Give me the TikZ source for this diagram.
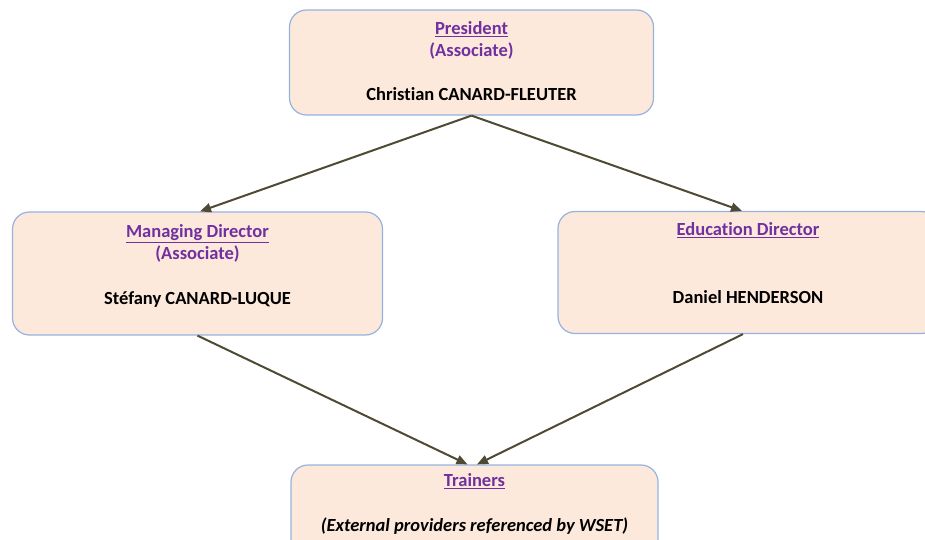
\documentclass[tikz,border=0pt]{standalone}
\usepackage{fontspec}
\setmainfont{Carlito}[Ligatures=NoCommon]
\usetikzlibrary{arrows.meta}
\definecolor{boxfill}{RGB}{252,233,219}
\definecolor{boxline}{RGB}{150,178,222}
\definecolor{ttlpurple}{RGB}{112,48,160}
\definecolor{arrowc}{RGB}{78,74,52}
\tikzset{
  orgbox/.style={draw=boxline, line width=1.2pt, fill=boxfill, rounded corners=17pt, inner sep=0pt},
  ttl/.style={anchor=base, inner sep=0pt, text=ttlpurple, font=\fontsize{18.5}{22}\selectfont\bfseries},
  nm/.style={anchor=base, inner sep=0pt, text=black, font=\fontsize{18.5}{22}\selectfont\bfseries},
  conn/.style={draw=arrowc, line width=2pt, -{Triangle[length=11pt,width=9pt]}},
}
\begin{document}
\begin{tikzpicture}[x=1pt,y=-1pt]
\useasboundingbox (0,0) rectangle (925,540);
\node[orgbox, minimum width=364pt, minimum height=105pt] (pres) at (471.5,62.5) {};
\node[orgbox, minimum width=370pt, minimum height=123pt] (mgr) at (197.5,273.5) {};
\node[orgbox, minimum width=380pt, minimum height=122pt] (edu) at (748,272.5) {};
\node[orgbox, minimum width=367pt, minimum height=100pt] (trn) at (474.5,515) {};

\node[ttl] (presT) at ([yshift=-25.5pt]pres.north) {\underline{President}};
\node[ttl] (presA) at ([yshift=-47.5pt]pres.north) {(Associate)};
\node[nm] (presN) at ([yshift=-91.5pt]pres.north) {Christian CANARD-FLEUTER};

\node[ttl] (mgrT) at ([yshift=-26pt]mgr.north) {\underline{Managing Director}};
\node[ttl] (mgrA) at ([yshift=-48pt]mgr.north) {(Associate)};
\node[nm] (mgrN) at ([yshift=-93pt]mgr.north) {Stéfany CANARD-LUQUE};

\node[ttl] (eduT) at ([yshift=-25pt]edu.north) {\underline{Education Director}};
\node[nm] (eduN) at ([yshift=-93pt]edu.north) {Daniel HENDERSON};

\node[ttl] (trnT) at ([yshift=-22pt]trn.north) {\underline{Trainers}};
\node[nm] (trnN) at ([yshift=-67.5pt]trn.north) {\itshape(External providers referenced by WSET)};

\draw[conn] (pres.south) -- ([xshift=2.5pt]mgr.north);
\draw[conn] (pres.south) -- ([xshift=-6pt]edu.north);
\draw[conn] (mgr.south) -- ([xshift=-7pt]trn.north);
\draw[conn] ([xshift=-5pt]edu.south) -- ([xshift=2.5pt]trn.north);
\end{tikzpicture}
\end{document}
